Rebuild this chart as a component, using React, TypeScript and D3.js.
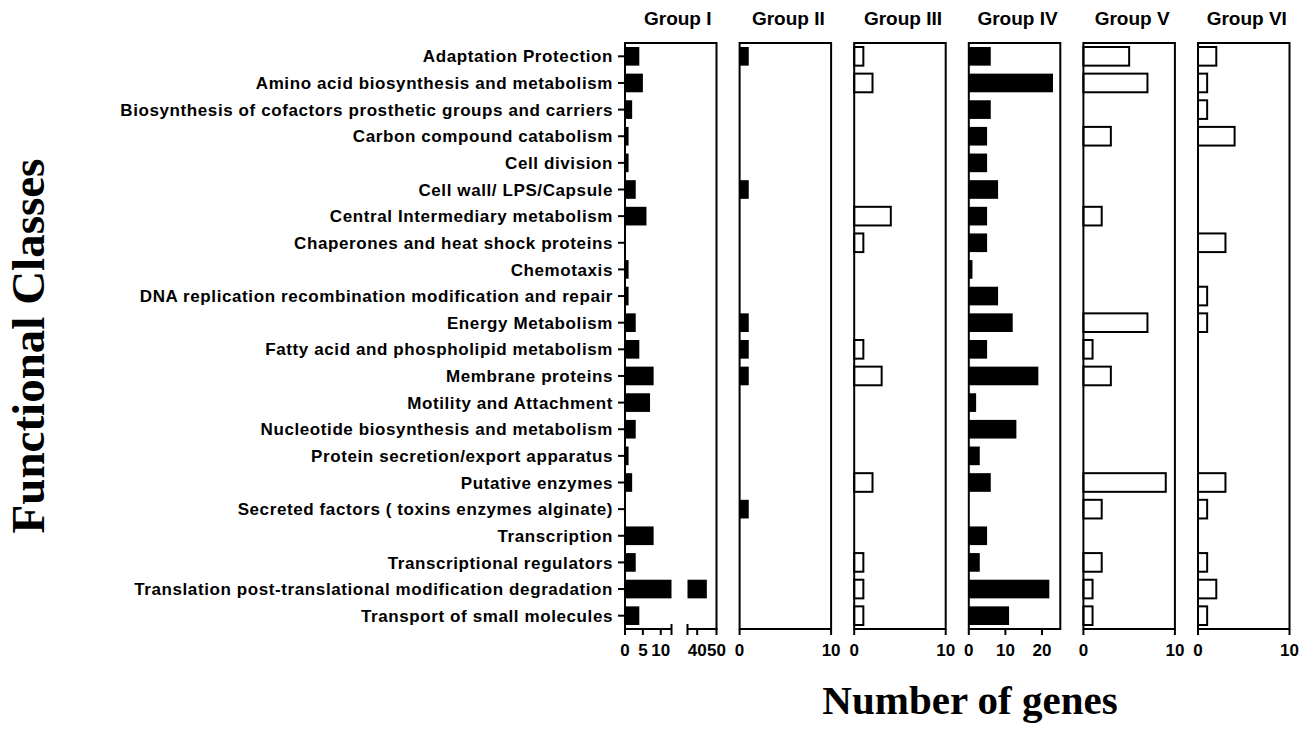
import React from 'react'
import * as d3 from 'd3'

// functional classes, top to bottom
const categories = [
  'Adaptation Protection',
  'Amino acid biosynthesis and metabolism',
  'Biosynthesis of cofactors prosthetic groups and carriers',
  'Carbon compound catabolism',
  'Cell division',
  'Cell wall/ LPS/Capsule',
  'Central Intermediary metabolism',
  'Chaperones and heat shock proteins',
  'Chemotaxis',
  'DNA replication recombination modification and repair',
  'Energy Metabolism',
  'Fatty acid and phospholipid metabolism',
  'Membrane proteins',
  'Motility and Attachment',
  'Nucleotide biosynthesis and metabolism',
  'Protein secretion/export apparatus',
  'Putative enzymes',
  'Secreted factors ( toxins enzymes alginate)',
  'Transcription',
  'Transcriptional regulators',
  'Translation post-translational modification degradation',
  'Transport of small molecules',
]

const groupNames = ['Group I', 'Group II', 'Group III', 'Group IV', 'Group V', 'Group VI']

const groupI = [4, 5, 2, 1, 1, 3, 6, 0, 1, 1, 3, 4, 8, 7, 3, 1, 2, 0, 8, 3, 45, 4]
const groupII = [1, 0, 0, 0, 0, 1, 0, 0, 0, 0, 1, 1, 1, 0, 0, 0, 0, 1, 0, 0, 0, 0]
const groupIII = [1, 2, 0, 0, 0, 0, 4, 1, 0, 0, 0, 1, 3, 0, 0, 0, 2, 0, 0, 1, 1, 1]
const groupIV = [6, 23, 6, 5, 5, 8, 5, 5, 1, 8, 12, 5, 19, 2, 13, 3, 6, 0, 5, 3, 22, 11]
const groupV = [5, 7, 0, 3, 0, 0, 2, 0, 0, 0, 7, 1, 3, 0, 0, 0, 9, 2, 0, 2, 1, 1]
const groupVI = [2, 1, 1, 4, 0, 0, 0, 3, 0, 1, 1, 0, 0, 0, 0, 0, 3, 1, 0, 1, 2, 1]

// group I has a broken x axis
const groupIBreakLow = [0, 13]
const groupIBreakHigh = [35, 50]
const groupITicksLow = [0, 5, 10]
const groupITicksHigh = [40, 50]
const ticksTen = [0, 10]
const ticksIV = [0, 10, 20]

const W = 1307
const H = 737
const top = 43
const bottom = 629
const panelLeft = 625
const panelStep = 114.6
const panelW = 91.5
const sans = '"Liberation Sans", Arial, sans-serif'
const serif = '"Liberation Serif", "Times New Roman", serif'

const y = d3.scaleBand<string>().domain(categories).range([top, bottom]).paddingInner(0.3).paddingOuter(0.15)

type Panel = {
  name: string
  values: number[]
  filled: boolean
  max: number
  ticks: number[]
}

const panels: Panel[] = [
  { name: groupNames[1], values: groupII, filled: true, max: 10, ticks: ticksTen },
  { name: groupNames[2], values: groupIII, filled: false, max: 10, ticks: ticksTen },
  { name: groupNames[3], values: groupIV, filled: true, max: 25, ticks: ticksIV },
  { name: groupNames[4], values: groupV, filled: false, max: 10, ticks: ticksTen },
  { name: groupNames[5], values: groupVI, filled: false, max: 10, ticks: ticksTen },
]

const TickLabel = ({ x, v }: { x: number; v: number }) => (
  <text x={x} y={656} textAnchor="middle" fontFamily={sans} fontWeight="bold" fontSize={17}>
    {v}
  </text>
)

const Title = ({ x, label }: { x: number; label: string }) => (
  <text x={x} y={25} textAnchor="middle" fontFamily={sans} fontWeight="bold" fontSize={19}>
    {label}
  </text>
)

const GroupOne = () => {
  const x0 = panelLeft
  const x1 = panelLeft + panelW
  const lo = d3.scaleLinear().domain(groupIBreakLow).range([x0, x0 + 46.5])
  const hi = d3.scaleLinear().domain(groupIBreakHigh).range([x0 + 62.5, x1])
  const bh = y.bandwidth()
  return (
    <g>
      <Title x={(x0 + x1) / 2 + 7} label={groupNames[0]} />
      {groupI.map((v, i) => {
        const yy = y(categories[i]) as number
        const wLow = lo(Math.min(v, groupIBreakLow[1])) - x0
        return (
          <g key={i}>
            {v > 0 && <rect x={x0} y={yy} width={wLow} height={bh} fill="#000" />}
            {v > groupIBreakHigh[0] && (
              <rect x={hi(groupIBreakHigh[0])} y={yy} width={hi(v) - hi(groupIBreakHigh[0])} height={bh} fill="#000" />
            )}
          </g>
        )
      })}
      {/* frame */}
      <path d={`M${x0},${bottom}V${top}H${x1}V${bottom}`} fill="none" stroke="#000" strokeWidth={2} />
      <line x1={x0 - 1} x2={lo(groupIBreakLow[1])} y1={bottom} y2={bottom} stroke="#000" strokeWidth={2} />
      <line x1={hi(groupIBreakHigh[0])} x2={x1 + 1} y1={bottom} y2={bottom} stroke="#000" strokeWidth={2} />
      <line x1={lo(groupIBreakLow[1])} x2={lo(groupIBreakLow[1])} y1={bottom - 5} y2={bottom + 6} stroke="#000" strokeWidth={2} />
      <line x1={hi(groupIBreakHigh[0])} x2={hi(groupIBreakHigh[0])} y1={bottom - 5} y2={bottom + 6} stroke="#000" strokeWidth={2} />
      {groupITicksLow.map((t) => (
        <g key={'l' + t}>
          <line x1={lo(t)} x2={lo(t)} y1={bottom} y2={bottom + 6} stroke="#000" strokeWidth={2} />
          <TickLabel x={lo(t)} v={t} />
        </g>
      ))}
      {groupITicksHigh.map((t) => (
        <g key={'h' + t}>
          <line x1={hi(t)} x2={hi(t)} y1={bottom} y2={bottom + 6} stroke="#000" strokeWidth={2} />
          <TickLabel x={hi(t)} v={t} />
        </g>
      ))}
      {/* category axis */}
      {categories.map((c) => {
        const cy = (y(c) as number) + bh / 2
        return (
          <g key={c}>
            <line x1={x0 - 7} x2={x0} y1={cy} y2={cy} stroke="#000" strokeWidth={2} />
            <text
              x={x0 - 12}
              y={cy}
              dy="0.36em"
              textAnchor="end"
              fontFamily={sans}
              fontWeight="bold"
              fontSize={17}
              letterSpacing={0.6}
            >
              {c}
            </text>
          </g>
        )
      })}
    </g>
  )
}

const GroupPanel = ({ p, idx }: { p: Panel; idx: number }) => {
  const x0 = panelLeft + panelStep * (idx + 1)
  const x1 = x0 + panelW
  const x = d3.scaleLinear().domain([0, p.max]).range([x0, x1])
  const bh = y.bandwidth()
  return (
    <g>
      <Title x={(x0 + x1) / 2 + 3} label={p.name} />
      {p.values.map((v, i) =>
        v > 0 ? (
          p.filled ? (
            <rect key={i} x={x0} y={y(categories[i])} width={x(v) - x0} height={bh} fill="#000" />
          ) : (
            <rect key={i} x={x0} y={y(categories[i])} width={x(v) - x0} height={bh} fill="#fff" stroke="#000" strokeWidth={2} />
          )
        ) : null
      )}
      <rect x={x0} y={top} width={panelW} height={bottom - top} fill="none" stroke="#000" strokeWidth={2} />
      {p.ticks.map((t) => (
        <g key={t}>
          <line x1={x(t)} x2={x(t)} y1={bottom} y2={bottom + 6} stroke="#000" strokeWidth={2} />
          <TickLabel x={x(t)} v={t} />
        </g>
      ))}
    </g>
  )
}

export default function App() {
  return (
    <svg width={W} height={H} style={{ position: 'absolute', left: 0, top: 0, display: 'block', background: '#fff' }}>
      <rect width={W} height={H} fill="#fff" />
      <GroupOne />
      {panels.map((p, i) => (
        <GroupPanel key={p.name} p={p} idx={i} />
      ))}
      <text
        transform="translate(44,346) rotate(-90)"
        textAnchor="middle"
        fontFamily={serif}
        fontWeight="bold"
        fontSize={47}
      >
        Functional Classes
      </text>
      <text x={970} y={714} textAnchor="middle" fontFamily={serif} fontWeight="bold" fontSize={41}>
        Number of genes
      </text>
    </svg>
  )
}
